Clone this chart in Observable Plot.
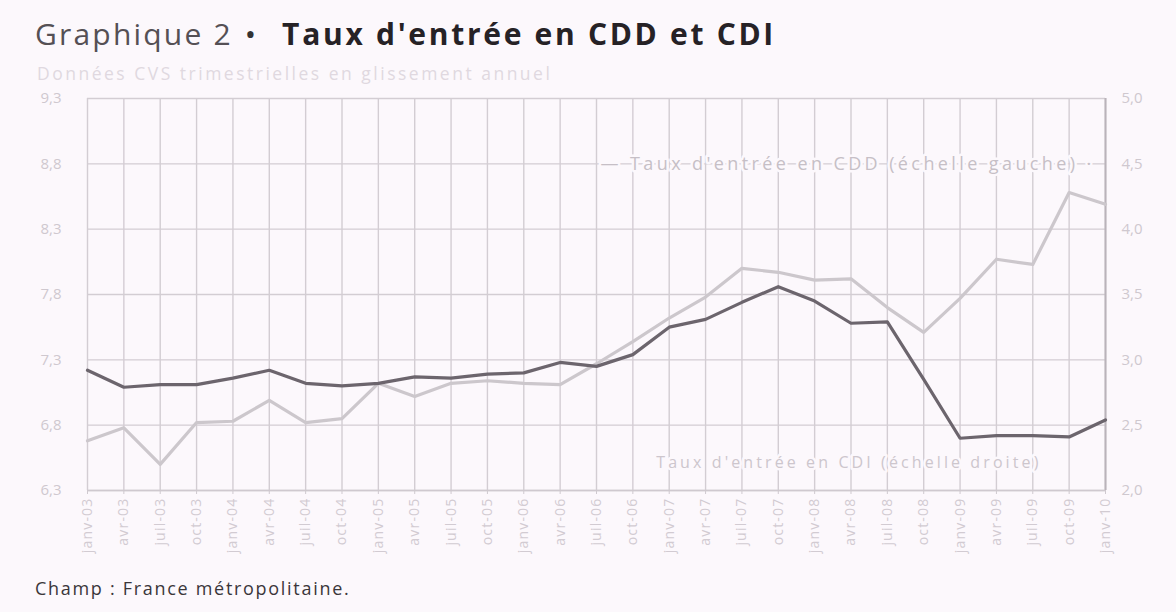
<!DOCTYPE html>
<html><head><meta charset="utf-8">
<script src="https://cdn.jsdelivr.net/npm/d3@7"></script>
<script src="https://cdn.jsdelivr.net/npm/@observablehq/plot@0.6"></script>
<style>
html,body{margin:0;padding:0}
body{background:#fcf8fc;width:1176px;height:612px;position:relative;overflow:hidden;font-family:"Open Sans","Noto Sans",sans-serif}
#title{position:absolute;left:35px;top:13px;font-size:30px;line-height:42px;white-space:nowrap}
#title .g{color:#555055;letter-spacing:2.2px}
#title .dot{color:#333;margin-left:12px}
#title b{color:#262226;font-weight:700;letter-spacing:2.7px;margin-left:26px}
#sub{position:absolute;left:37px;top:61px;font-size:17.5px;line-height:24px;color:#e0d8e0;white-space:nowrap;letter-spacing:2.5px}
#chart{position:absolute;left:0;top:85px}
#cap{position:absolute;left:35px;top:576px;font-size:18px;line-height:24px;color:#3a363a;white-space:nowrap;letter-spacing:1.7px}
</style></head><body>
<div id="title"><span class="g">Graphique 2</span><span class="dot">•</span><b>Taux d'entrée en CDD et CDI</b></div>
<div id="sub">Données CVS trimestrielles en glissement annuel</div>
<div id="chart"></div>
<div id="cap">Champ : France métropolitaine.</div>
<script>
const quarters = [
  "janv-03","avr-03","juil-03","oct-03",
  "janv-04","avr-04","juil-04","oct-04",
  "janv-05","avr-05","juil-05","oct-05",
  "janv-06","avr-06","juil-06","oct-06",
  "janv-07","avr-07","juil-07","oct-07",
  "janv-08","avr-08","juil-08","oct-08",
  "janv-09","avr-09","juil-09","oct-09",
  "janv-10"
];
// Taux d'entrée en CDD (échelle gauche)
const cdd = [6.68,6.78,6.50,6.82,6.83,6.99,6.82,6.85,7.12,7.02,7.12,7.14,7.12,7.11,7.27,7.44,7.62,7.78,8.00,7.97,7.91,7.92,7.70,7.51,7.77,8.07,8.03,8.58,8.49];
// Taux d'entrée en CDI (échelle droite)
const cdi = [2.92,2.79,2.81,2.81,2.86,2.92,2.82,2.80,2.82,2.87,2.86,2.89,2.90,2.98,2.95,3.04,3.25,3.31,3.44,3.56,3.45,3.28,3.29,2.85,2.40,2.42,2.42,2.41,2.54];
const leftTicks = [6.3,6.8,7.3,7.8,8.3,8.8,9.3];
const rightTicks = [2.0,2.5,3.0,3.5,4.0,4.5,5.0];
const labelCDD = "Taux d'entrée en CDD (échelle gauche)";
const labelCDI = "Taux d'entrée en CDI (échelle droite)";

const offset = leftTicks[0] - rightTicks[0];
const fmt = v => d3.format(".1f")(v).replace(".", ",");
const data = quarters.map((q, i) => ({q, cdd: cdd[i], cdi: cdi[i]}));
const bg = "#fcf8fc";

const chart = Plot.plot({
  width: 1176, height: 485,
  marginTop: 13, marginBottom: 80, marginLeft: 87, marginRight: 71,
  style: {background: "transparent", fontFamily: "'Open Sans','Noto Sans',sans-serif", fontSize: "13px"},
  x: {type: "point", domain: quarters, padding: 0, round: false},
  y: {domain: [leftTicks[0], leftTicks[leftTicks.length - 1]]},
  marks: [
    Plot.gridX({ticks: quarters, stroke: "#d3cdd3", strokeOpacity: 1, strokeWidth: 1.4}),
    Plot.gridY({ticks: leftTicks, stroke: "#d3cdd3", strokeOpacity: 1, strokeWidth: 1.4}),
    Plot.ruleX([quarters[quarters.length - 1]], {x: d => d, stroke: "#bab3ba", strokeWidth: 2}),
    Plot.ruleY([leftTicks[0]], {stroke: "#cfc9cf", strokeWidth: 1.6}),
    Plot.axisX({ticks: quarters, tickRotate: -90, tickSize: 4, tickPadding: 3, label: null,
      fill: "#d2cbd2", stroke: "#cfc9cf", fontSize: 14}),
    Plot.axisY({ticks: leftTicks, anchor: "left", tickSize: 0, tickPadding: 26, label: null,
      tickFormat: fmt, fill: "#cfc8cf", fontSize: 15}),
    Plot.axisY({ticks: leftTicks, anchor: "right", tickSize: 0, tickPadding: 16, label: null,
      tickFormat: d => fmt(d - offset), fill: "#cfc8cf", fontSize: 15}),
    Plot.lineY(data, {x: "q", y: "cdd", stroke: "#ccc7cc", strokeWidth: 3.2, strokeLinejoin: "round"}),
    Plot.lineY(data, {x: "q", y: d => d.cdi + offset, stroke: "#6c656d", strokeWidth: 3.2, strokeLinejoin: "round"}),
    Plot.text([labelCDD], {x: () => quarters[14], y: () => leftTicks[5], text: d => "— " + d + " ·", textAnchor: "start", dx: 4,
      fill: "#c6bfc6", stroke: bg, strokeWidth: 5, fontSize: 18}),
    Plot.text([labelCDI], {x: () => quarters[16], y: () => 6.515, text: d => d, textAnchor: "start", dx: -13,
      fill: "#cdc6cd", stroke: bg, strokeWidth: 5, fontSize: 16})
  ]
});
// letter spacing tweaks for the scanned look
chart.querySelectorAll("text").forEach(t => {
  const s = t.textContent;
  if (s.includes(labelCDD)) t.setAttribute("letter-spacing", "3.4");
  else if (s.includes(labelCDI)) t.setAttribute("letter-spacing", "3.1");
  else if (quarters.includes(s)) t.setAttribute("letter-spacing", "1.2");
});
document.getElementById("chart").appendChild(chart);
</script>
</body></html>
